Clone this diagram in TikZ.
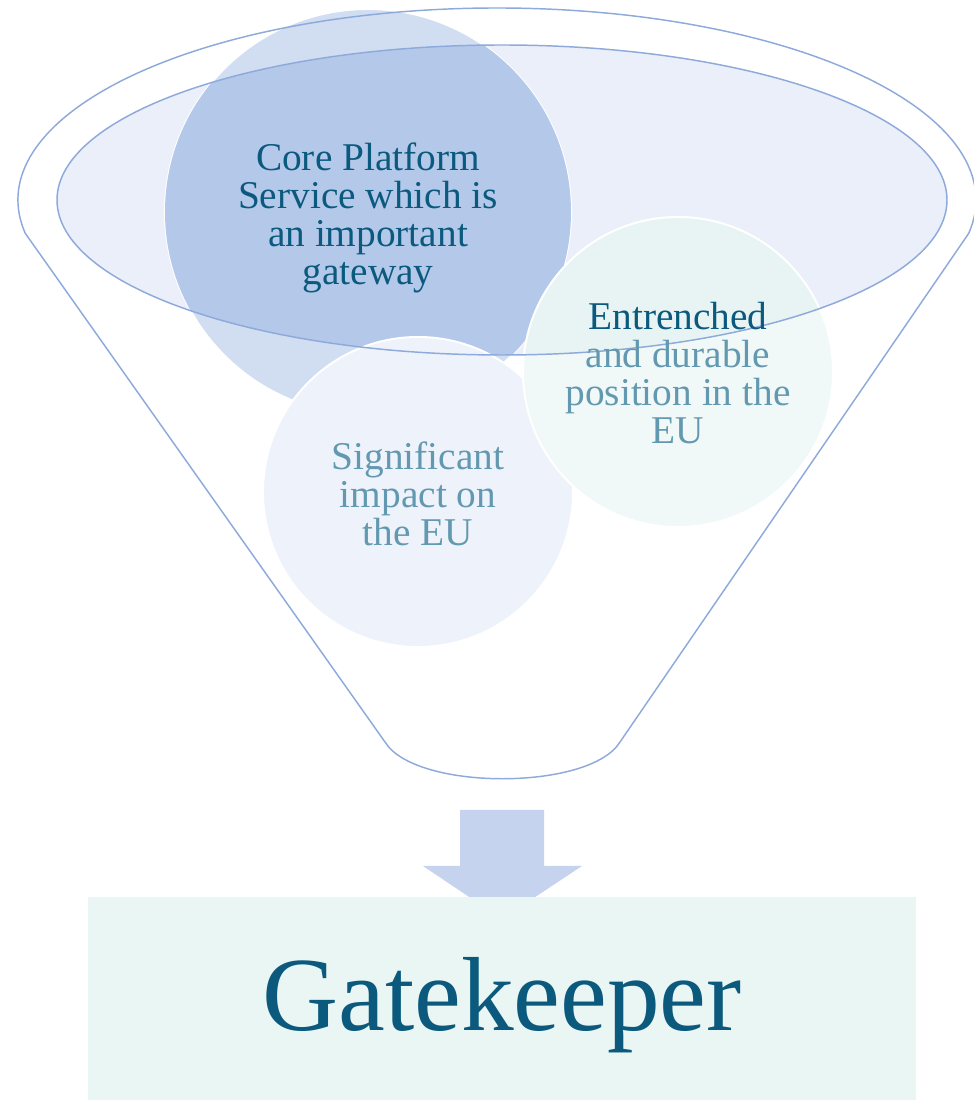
\documentclass[tikz,border=0pt]{standalone}
\usepackage{fontspec}
\setmainfont{Liberation Serif}
\usetikzlibrary{positioning,calc}

\definecolor{rimblue}{HTML}{8EAADB}
\definecolor{rimfill}{HTML}{EAEFF9}
\definecolor{corelight}{HTML}{D1DEF2}
\definecolor{coredark}{HTML}{B4C8EA}
\definecolor{impactfill}{HTML}{EEF2FB}
\definecolor{mintlight}{HTML}{F1F8F8}
\definecolor{mintdark}{HTML}{E8F4F3}
\definecolor{arrowblue}{HTML}{C5D3EE}
\definecolor{boxmint}{HTML}{EAF6F4}
\definecolor{tealdark}{HTML}{0B5A7E}
\definecolor{teallight}{HTML}{6399B0}

\begin{document}
\begin{tikzpicture}[x=0.75pt, y=0.75pt,
  funnel/.style={draw=rimblue, line width=1.1pt},
  disc/.style={draw=white, line width=1.5pt},
  circletext/.style={align=center, font=\fontsize{29.5}{28.5}\selectfont},
  gatetext/.style={text=tealdark, font=\fontsize{79}{80}\selectfont}]
\useasboundingbox (0,0) rectangle (974,1100);

% mouth of the funnel
\coordinate (mouth) at (502,900);
\fill[rimfill] (mouth) ellipse[x radius=445, y radius=155];

% the three criteria
\filldraw[disc, fill=corelight] (368,888) circle[radius=203];
\begin{scope}
  \clip (mouth) ellipse[x radius=445, y radius=155];
  \fill[coredark] (368,888) circle[radius=203];
\end{scope}
\filldraw[disc, fill=impactfill] (418,608) circle[radius=155];
\fill[mintlight] (678,728) circle[radius=155];
\begin{scope}
  \clip (mouth) ellipse[x radius=445, y radius=155];
  \fill[mintdark] (678,728) circle[radius=155];
\end{scope}
\draw[disc] (678,728) circle[radius=155];

% funnel outline
\draw[funnel] (497,900) ++(190:479 and 192)
  arc[start angle=190, end angle=-10, x radius=479, y radius=192]
  -- (620,358) .. controls (590,309) and (415,309) .. (385,358) -- cycle;
\draw[funnel] (mouth) ellipse[x radius=445, y radius=155];

\node[circletext, text=tealdark] (core) at (368,882)
  {Core Platform\\Service which is\\an important\\gateway};
\node[circletext, text=teallight] (impact) at (418,606)
  {Significant\\impact on\\the EU};
\node[circletext, text=teallight] (entrench) at (678,727)
  {\textcolor{tealdark}{Entrenched}\\and durable\\position in the\\EU};

% arrow down to the result
\fill[arrowblue] (460,290) -- (544,290) -- (544,234) -- (582,234)
  -- (502,181) -- (423,234) -- (460,234) -- cycle;
\fill[boxmint] (88,0) rectangle (916,203);
\node[gatetext] (gate) at (502,95) {Gatekeeper};
\end{tikzpicture}
\end{document}
